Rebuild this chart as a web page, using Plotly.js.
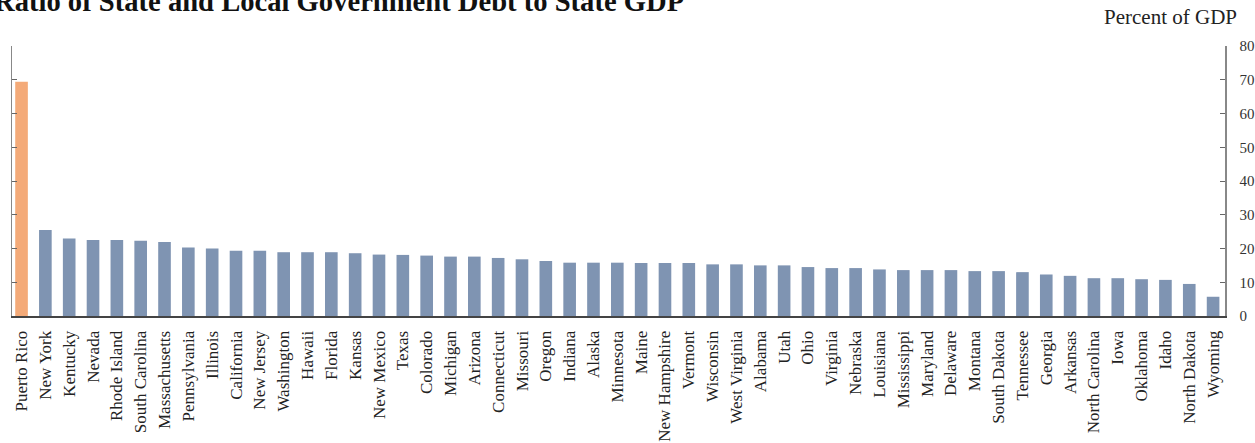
<!DOCTYPE html>
<html><head><meta charset="utf-8">
<script src="https://cdn.plot.ly/plotly-3.0.1.min.js"></script>
<style>html,body{margin:0;padding:0;background:#fff;}#chart{width:1255px;height:443px;}</style>
</head><body><div id="chart"></div>
<script>
var states = ["Puerto Rico","New York","Kentucky","Nevada","Rhode Island","South Carolina","Massachusetts","Pennsylvania","Illinois","California","New Jersey","Washington","Hawaii","Florida","Kansas","New Mexico","Texas","Colorado","Michigan","Arizona","Connecticut","Missouri","Oregon","Indiana","Alaska","Minnesota","Maine","New Hampshire","Vermont","Wisconsin","West Virginia","Alabama","Utah","Ohio","Virginia","Nebraska","Louisiana","Mississippi","Maryland","Delaware","Montana","South Dakota","Tennessee","Georgia","Arkansas","North Carolina","Iowa","Oklahoma","Idaho","North Dakota","Wyoming"];
var debtPct = [69.4,25.5,23.0,22.5,22.5,22.3,21.9,20.3,20.0,19.3,19.3,18.9,18.9,18.9,18.6,18.2,18.1,17.9,17.6,17.6,17.2,16.8,16.3,15.8,15.8,15.8,15.7,15.7,15.7,15.3,15.3,15.0,15.0,14.5,14.2,14.2,13.8,13.6,13.6,13.6,13.3,13.3,13.0,12.3,11.9,11.2,11.2,10.9,10.7,9.5,5.7];
var yTicks = [0,10,20,30,40,50,60,70,80];
var titleText = "Ratio of State and Local Government Debt to State GDP";
var unitText = "Percent of GDP";

var colors = states.map(function(s){ return s === "Puerto Rico" ? "#F4AA78" : "#7F94B2"; });

var trace = {
  type: "bar",
  x: states,
  y: debtPct,
  marker: {color: colors, line: {width: 0}},
  hoverinfo: "x+y"
};

var layout = {
  width: 1255, height: 443,
  margin: {l: 12, r: 30, t: 46, b: 127, pad: 0},
  paper_bgcolor: "#fff", plot_bgcolor: "#fff",
  font: {family: "Liberation Serif, Times New Roman, serif", color: "#222"},
  showlegend: false,
  bargap: 0.47,
  xaxis: {
    type: "category",
    range: [-0.4, 50.5],
    tickangle: -90,
    tickfont: {size: 17, color: "#222"},
    ticks: "",
    ticklabelstandoff: 6,
    showline: true, linecolor: "#444", linewidth: 2,
    showgrid: false, zeroline: false, automargin: false, fixedrange: true
  },
  yaxis: {
    side: "right",
    range: [0, 80],
    tickvals: yTicks,
    ticktext: yTicks.map(String),
    ticks: "inside", ticklen: 5, tickcolor: "#666", tickwidth: 1,
    mirror: "ticks",
    showline: true, linecolor: "#888", linewidth: 1.5,
    tickfont: {size: 15, color: "#333"},
    ticklabelstandoff: 10,
    showgrid: false, zeroline: false, automargin: false, fixedrange: true
  },
  annotations: [
    {text: "<b>" + titleText + "</b>", xref: "paper", yref: "paper", x: 0, y: 1,
     xanchor: "left", yanchor: "middle", xshift: -20, yshift: 45, showarrow: false,
     font: {size: 28.6, color: "#111", family: "Liberation Serif, Times New Roman, serif"}},
    {text: unitText, xref: "paper", yref: "paper", x: 1, y: 1,
     xanchor: "right", yanchor: "middle", xshift: 14, yshift: 29, showarrow: false,
     font: {size: 21, color: "#222", family: "Liberation Serif, Times New Roman, serif"}}
  ]
};

Plotly.newPlot("chart", [trace], layout, {displayModeBar: false, staticPlot: true});
</script></body></html>
